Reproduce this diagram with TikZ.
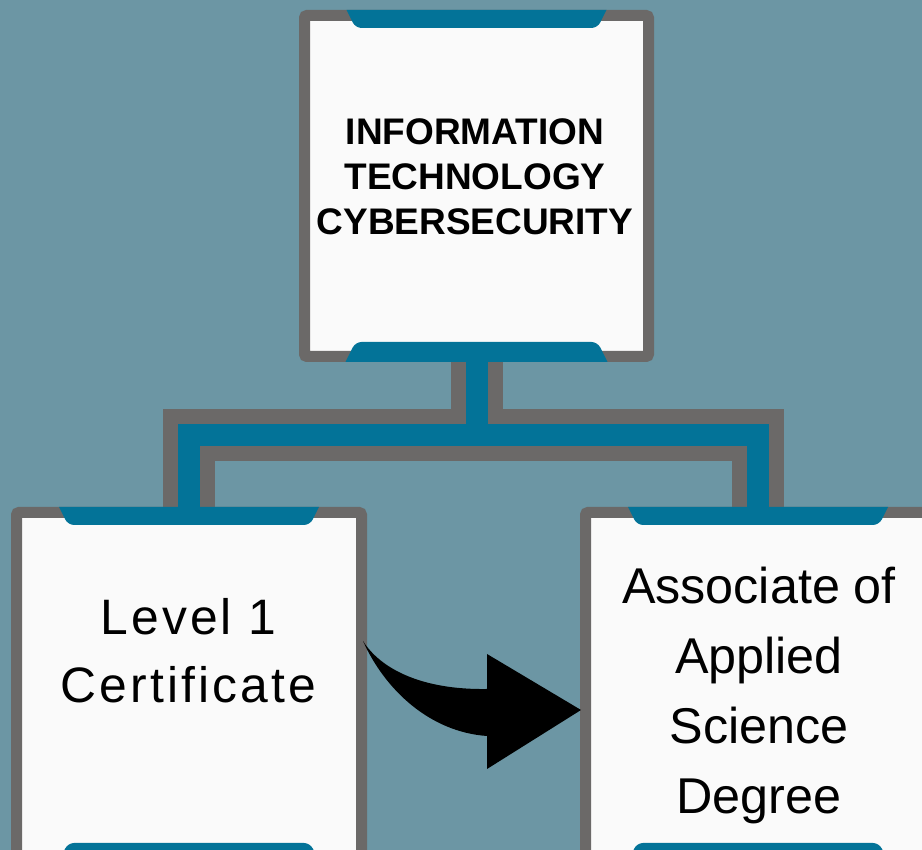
\documentclass[tikz,border=0pt]{standalone}
\usepackage{fontspec}
\setmainfont{Liberation Sans}
\definecolor{bg}{HTML}{6C96A4}
\definecolor{bordergray}{HTML}{6B6968}
\definecolor{tabteal}{HTML}{037398}
\definecolor{boxwhite}{HTML}{FAFAFA}
\begin{document}
\begin{tikzpicture}[x=1pt,y=1pt,
  cardbox/.style={draw=bordergray, line width=11pt, fill=boxwhite, rounded corners=2.5pt,
    inner sep=0pt, outer sep=5.5pt},
  connout/.style={draw=bordergray, line width=52pt, line join=miter},
  connin/.style={draw=tabteal, line width=22pt, line join=miter},
  tabfill/.style={fill=tabteal},
  toptext/.style={font=\bfseries\fontsize{37}{45}\selectfont, align=center, text=black},
  lowtext/.style={font=\fontsize{50.3}{70}\selectfont, align=center, text=black}
]
\useasboundingbox (0,0) rectangle (922,850);
\clip (0,0) rectangle (922,850);
\fill[bg] (0,0) rectangle (922,850);

% boxes
\node[cardbox, minimum width=344pt, minimum height=341pt] (top) at (476.5,664) {};
\node[cardbox, minimum width=345pt, minimum height=345pt] (lvl) at (189,165) {};
\node[cardbox, minimum width=345pt, minimum height=345pt] (aas) at (758,165) {};

% connectors
\coordinate (j) at (476.5,415);
\draw[connout] (lvl.north) |- (j) -| (aas.north);
\draw[connout] (top.south) -- (j);
\draw[connin] (lvl.north) |- (j) -| (aas.north);
\draw[connin] (top.south) -- (j);

% tabs
\foreach \n in {top,lvl,aas}{
  \fill[tabfill] ([xshift=-130pt]\n.north) -- ([xshift=130pt]\n.north)
    [rounded corners=6pt] -- ([xshift=121pt,yshift=-18pt]\n.north)
    -- ([xshift=-121pt,yshift=-18pt]\n.north) [sharp corners] -- cycle;
  \fill[tabfill] ([xshift=-131pt]\n.south) -- ([xshift=131pt]\n.south)
    [rounded corners=6pt] -- ([xshift=121pt,yshift=20pt]\n.south)
    -- ([xshift=-121pt,yshift=20pt]\n.south) [sharp corners] -- cycle;
}

% texts
\node[toptext] (toptxt) at (475,673.5) {INFORMATION\\TECHNOLOGY\\CYBERSECURITY};
\node[lowtext, font=\fontsize{49.8}{68}\selectfont\addfontfeatures{LetterSpace=6.3}] (lvltxt) at (188.5,199) {Level 1\\Certificate};
\node[lowtext] (aastxt) at (759,154) {Associate of\\Applied\\Science\\Degree};

% curved arrow
\coordinate (arrstart) at ([xshift=-4pt,yshift=44pt]lvl.east);
\coordinate (arrtip) at ([xshift=1pt,yshift=-25pt]aas.west);
\fill[black] (arrstart) .. controls (380,182) and (420,160) .. (487,161)
  -- (487,196) -- (arrtip) -- (487,81) -- (487,114)
  .. controls (430,118) and (385,160) .. (arrstart) -- cycle;
\end{tikzpicture}
\end{document}
